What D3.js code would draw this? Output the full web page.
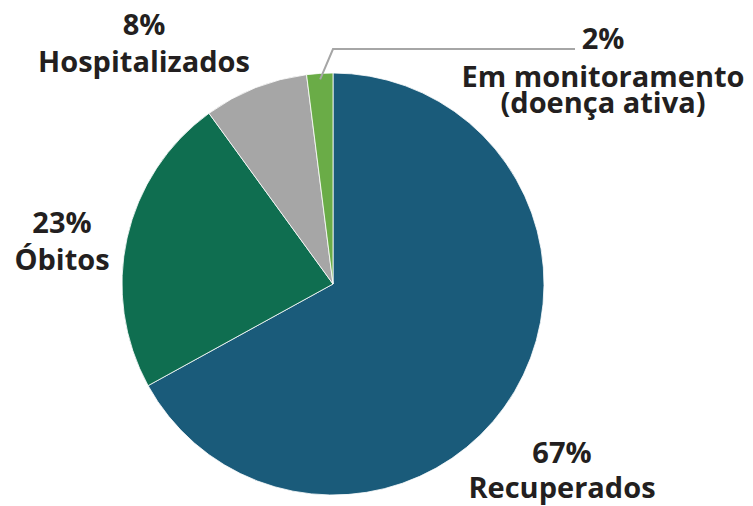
<!DOCTYPE html>
<html lang="pt">
<head>
<meta charset="UTF-8">
<title>Casos</title>
<script src="https://cdn.jsdelivr.net/npm/d3@7"></script>
<style>
    body { margin: 0; background: #fff; }
    text { font-family: "Open Sans", sans-serif; font-weight: 700; fill: #231f20; }
</style>
</head>
<body>
<script>
    // data
    var categories = ["Recuperados", "Óbitos", "Hospitalizados", "Em monitoramento|(doença ativa)"]
    var values = [67, 23, 8, 2]
    var colors = ["#1a5b7a", "#0f6e50", "#a6a6a6", "#6aac47"]

    var width = 753, height = 506
    var cx = 333, cy = 284, radius = 211

    var svg = d3.select("body").append("svg")
        .attr("width", width)
        .attr("height", height)

    var pie = d3.pie().sort(null).value(function (d) { return d; })
    var arc = d3.arc().innerRadius(0).outerRadius(radius)
    var arcs = pie(values)

    var g = svg.append("g").attr("transform", "translate(" + cx + "," + cy + ")")

    g.selectAll("path")
        .data(arcs)
        .enter().append("path")
        .attr("d", arc)
        .attr("fill", function (d, i) { return colors[i]; })
        .attr("stroke", "#fff")
        .attr("stroke-width", 0.8)

    // label placement (relative to pie centre)
    var labelPos = [
        {x: 229, y: 179, gap: 35},
        {x: -271, y: -51, gap: 37},
        {x: -189, y: -249, gap: 37},
        {x: 270, y: -235, gap: 38, gap2: 26}
    ]

    // leader line for the small slice
    var small = arcs[3]
    var mid = (small.startAngle + small.endAngle) / 2
    var p0 = [Math.sin(mid) * (radius - 6), -Math.cos(mid) * (radius - 6)]
    var lineY = labelPos[3].y
    g.append("polyline")
        .attr("points", [p0, [0, lineY], [labelPos[3].x - 28, lineY]].map(function (p) { return p.join(","); }).join(" "))
        .attr("fill", "none")
        .attr("stroke", "#a6a6a6")
        .attr("stroke-width", 2)

    arcs.forEach(function (d, i) {
        var lp = labelPos[i]
        var t = g.append("text")
            .attr("text-anchor", "middle")
            .attr("font-size", "29px")
        t.append("tspan").attr("x", lp.x).attr("y", lp.y).text(values[i] + "%")
        var lines = categories[i].split("|")
        lines.forEach(function (s, k) {
            t.append("tspan")
                .attr("x", lp.x)
                .attr("y", lp.y + lp.gap + k * (lp.gap2 || 0))
                .text(s)
        })
    })
</script>
</body>
</html>
